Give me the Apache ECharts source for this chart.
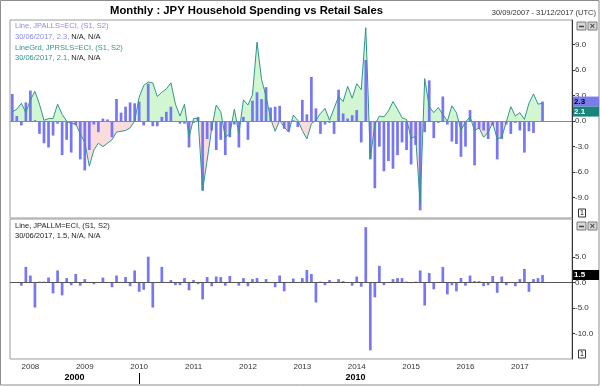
<!DOCTYPE html>
<html><head><meta charset="utf-8">
<script src="https://cdn.jsdelivr.net/npm/echarts@6/dist/echarts.min.js"></script>
<style>html,body{margin:0;padding:0;background:#fff}#c{width:600px;height:386px}</style>
</head><body><div id="c"></div>
<script>
// ---- categories: monthly, 30/09/2007 .. 31/12/2017 ----
const startYear = 2007, startMonth = 9, endYear = 2017, endMonth = 12;
const months = [];
for (let y = startYear, m = startMonth; y < endYear || (y === endYear && m <= endMonth);) {
  months.push(y + '-' + String(m).padStart(2, '0'));
  m++; if (m > 12) { m = 1; y++; }
}

// ---- JPALLS=ECI : household spending, % y/y (bars, top panel) ----
const spendYoY = [
  3.2, 0.6, -0.5, 2.2, 3.6, 0.1, -1.5, -2.6, -3.1, -1.7,
  -0.3, -4.0, -2.2, -3.7, -0.5, -4.5, -5.8, -3.4, -0.4, -1.3,
  0.3, 0.2, -1.9, 2.6, 1.0, 1.7, 2.2, 2.1, 2.3, -0.5,
  4.4, -0.6, -0.6, 0.5, 1.1, 1.7, 0.0, -0.3, -0.3, -3.1,
  -0.2, 0.5, -8.2, -2.1, -1.1, -3.4, -2.2, -4.0, -1.9, -0.4,
  -3.1, 0.5, -2.2, 2.4, 3.4, 2.6, 4.0, 1.6, 1.7, 1.8,
  -0.9, -1.2, 0.1, -0.7, 2.5, 0.8, 5.2, 1.5, -1.5, -0.4,
  -0.2, -1.5, 3.7, 0.9, 0.3, 0.7, 1.3, -2.5, 7.2, -4.5,
  -7.9, -3.0, -5.9, -4.7, -5.6, -4.0, -2.5, -3.4, -5.1, -2.8,
  -10.5, -1.3, 4.8, -2.0, -0.2, 2.9, -0.4, -2.4, -2.7, -4.2,
  -3.0, 1.3, -5.2, -0.9, -1.1, -2.1, -0.5, -4.5, -2.1, -0.4,
  -1.5, -0.2, -1.1, -3.7, -1.2, -1.4, -0.1, 2.3
];

// ---- JPRSLS=ECI : retail sales, % y/y (line with shaded area, top panel) ----
const retailYoY = [
  1.1, 1.4, 2.1, 1.0, 2.5, 3.5, 2.0, 0.1, 0.3, 0.3,
  2.0, 0.8, 0.0, -0.3, -0.3, -1.5, -2.5, -5.3, -3.4, -2.6,
  -3.0, -2.6, -2.2, -1.3, -1.2, -1.1, -0.8, 0.0, 2.8, 4.2,
  4.6, 4.5, 2.9, 3.4, 3.8, 4.5, 2.0, 0.6, 2.0, -1.9,
  0.3, 0.3, -8.1, -4.6, -0.9, 1.9, 1.1, -1.9, -1.5, 1.4,
  -1.5, 2.5, 1.9, 3.1, 9.3, 4.9, 2.9, 0.3, -1.2, 0.1,
  -0.7, -1.3, 0.7, 0.1, -1.1, -2.1, -0.3, 0.1, 0.9, 1.5,
  0.1, 1.5, 2.9, 2.3, 4.1, 2.7, 4.4, 3.7, 11.0, -4.4,
  -0.4, 0.6, 0.5, 1.2, 2.3, 1.4, 0.4, 0.2, -2.0, -1.8,
  -9.7, 5.0, 1.7, 1.0, 1.6, 0.8, 0.0, 1.8, 1.0, -1.1,
  -0.1, 0.5, -1.1, -0.8, -1.9, -1.3, -0.2, -2.1, -1.9, -0.1,
  1.7, 0.6, 1.0, 0.2, 2.1, 3.2, 2.0, 2.1
];

// ---- JPALLM=ECI : household spending, % m/m (bars, bottom panel) ----
const spendMoM = [
  null, null, -0.6, 3.1, 1.4, -4.9, 0.2, 0.2, 1.0, -2.1,
  2.4, -2.5, 0.9, -0.5, 1.7, -0.6, 0.7, 0.1, -0.3, 0.1,
  1.0, 0.1, -0.9, 1.4, 0.1, 1.1, -0.7, 2.4, -1.8, -1.4,
  5.1, -4.9, 0.1, 3.1, 0.1, 0.5, -0.5, -0.5, 0.9, -1.5,
  0.5, -0.3, -3.3, 1.1, -0.7, 1.2, 1.1, -0.6, 1.3, 0.1,
  -0.6, 0.9, -0.7, 0.7, 0.9, 0.1, 0.7, 0.1, -0.9, 1.4,
  -1.7, 0.1, 0.8, 0.1, 0.9, 2.5, 1.7, -3.9, 0.2, -0.5,
  0.5, 0.1, 0.7, 0.3, 0.1, -0.6, 1.2, -0.8, 10.9, -13.3,
  -2.9, 3.3, -0.5, 0.1, 0.7, 0.9, 0.9, 0.2, -0.1, 0.2,
  2.4, -4.5, 1.9, -1.3, 0.1, 3.1, -2.3, -0.5, -1.7, 0.9,
  -0.6, 1.4, 0.3, 0.3, -0.7, -0.5, 1.3, -2.0, 1.2, -0.5,
  0.1, -0.7, 0.7, 2.7, -1.8, 0.7, 0.9, 1.5
];

const topTicks = [-9, -6, -3, 0, 3, 6, 9];
const bottomTicks = [-10, -5, 0, 5];
const decadeLabels = ['2000', '2010'];
const decadeStart = '2010-01';

// ---- styling ----
const FONT = '"Liberation Sans", Arial, sans-serif';
const BAR = '#7676f6';
const TEAL = '#2f978a';
const LAV = '#8a8af0';
const GL = 10, GR = 28;
const TOP_MIN = -11.4, TOP_MAX = 11.9;

const lastIdx = spendYoY.length - 1;
const lastDate = (() => { const p = months[lastIdx].split('-'); return '30/' + p[1] + '/' + p[0]; })();
const f1 = v => v.toFixed(1);

const chart = echarts.init(document.getElementById('c'), null, { renderer: 'canvas' });

const legendTitle = (txt, top, rich) => ({
  text: txt, left: 15, top: top, padding: 0,
  textStyle: { fontFamily: FONT, fontSize: 7.5, fontWeight: 'normal', rich: rich }
});
const richTop = {
  l: { color: LAV, fontFamily: FONT, fontSize: 7.5 },
  t: { color: TEAL, fontFamily: FONT, fontSize: 7.5 },
  k: { color: '#222', fontFamily: FONT, fontSize: 7.5 }
};

const option = {
  animation: false,
  backgroundColor: '#fff',
  title: [
    { text: 'Monthly : JPY Household Spending vs Retail Sales', left: 110, top: 5, padding: 0,
      textStyle: { fontFamily: FONT, fontSize: 11.3, fontWeight: 'bold', color: '#000' } },
    { text: '30/09/2007 - 31/12/2017 (UTC)', right: 4, top: 9, padding: 0,
      textStyle: { fontFamily: FONT, fontSize: 7.5, fontWeight: 'normal', color: '#333' } },
    legendTitle('{l|Line, JPALLS=ECI, (S1, S2)}', 22, richTop),
    legendTitle('{l|' + lastDate + ', ' + f1(spendYoY[lastIdx]) + ',} {k|N/A, N/A}', 32.5, richTop),
    legendTitle('{t|LineGrd, JPRSLS=ECI, (S1, S2)}', 43.5, richTop),
    legendTitle('{t|' + lastDate + ', ' + f1(retailYoY[lastIdx]) + ',} {k|N/A, N/A}', 54, richTop),
    legendTitle('{k|Line, JPALLM=ECI, (S1, S2)}', 221.5, richTop),
    legendTitle('{k|' + lastDate + ', ' + f1(spendMoM[lastIdx]) + ', N/A, N/A}', 232, richTop)
  ],
  grid: [
    { left: GL, right: GR, top: 20, height: 198, show: true, borderColor: '#9c9c9c', borderWidth: 1, backgroundColor: '#fff' },
    { left: GL, right: GR, top: 219, height: 140, show: true, borderColor: '#9c9c9c', borderWidth: 1, backgroundColor: '#fff' }
  ],
  visualMap: {
    show: false, type: 'piecewise', seriesIndex: 0, dimension: 1,
    pieces: [{ min: 0, max: TOP_MAX, color: '#d2f6d2' }, { min: TOP_MIN, max: 0, color: '#fbdcdc' }]
  },
  xAxis: [
    { gridIndex: 0, type: 'category', data: months, boundaryGap: true,
      axisLine: { show: false }, axisTick: { show: false }, axisLabel: { show: false }, splitLine: { show: false } },
    { gridIndex: 1, type: 'category', data: months, boundaryGap: true,
      axisLine: { show: false }, axisTick: { show: false }, splitLine: { show: false },
      axisLabel: { show: true, interval: (i, v) => v.endsWith('-01'), formatter: v => v.slice(0, 4),
        fontFamily: FONT, fontSize: 8, color: '#333', margin: 4 } }
  ],
  yAxis: [
    { gridIndex: 0, type: 'value', position: 'right', min: TOP_MIN, max: TOP_MAX,
      axisLine: { show: true, lineStyle: { color: '#333', width: 1 } },
      axisTick: { show: true, length: 3, lineStyle: { color: '#333' }, customValues: topTicks },
      axisLabel: { show: true, customValues: topTicks, formatter: v => f1(v), fontFamily: FONT, fontSize: 8, color: '#333', margin: 3 },
      splitLine: { show: false } },
    { gridIndex: 1, type: 'value', position: 'right', min: -15, max: 12.5,
      axisLine: { show: true, lineStyle: { color: '#333', width: 1 } },
      axisTick: { show: true, length: 3, lineStyle: { color: '#333' }, customValues: bottomTicks },
      axisLabel: { show: true, customValues: bottomTicks, formatter: v => f1(v), fontFamily: FONT, fontSize: 8, color: '#333', margin: 3 },
      splitLine: { show: false } }
  ],
  series: [
    { name: 'retailArea', type: 'line', xAxisIndex: 0, yAxisIndex: 0, data: retailYoY,
      showSymbol: false, silent: true, z: 1,
      lineStyle: { width: 0, opacity: 0 }, areaStyle: { opacity: 1, origin: 0 } },
    { name: 'JPALLS', type: 'bar', xAxisIndex: 0, yAxisIndex: 0, data: spendYoY,
      barWidth: 2.7, itemStyle: { color: BAR }, z: 2, silent: true },
    { name: 'JPRSLS', type: 'line', xAxisIndex: 0, yAxisIndex: 0, data: retailYoY,
      showSymbol: false, silent: true, z: 3,
      lineStyle: { color: TEAL, width: 1 }, itemStyle: { color: TEAL },
      markLine: { silent: true, symbol: 'none', label: { show: false },
        lineStyle: { color: '#4aa59b', width: 1, type: 'solid' }, data: [{ yAxis: 0 }] } },
    { name: 'JPALLM', type: 'bar', xAxisIndex: 1, yAxisIndex: 1, data: spendMoM,
      barWidth: 2.7, itemStyle: { color: BAR }, z: 2, silent: true,
      markLine: { silent: true, symbol: 'none', label: { show: false },
        lineStyle: { color: '#555', width: 1, type: 'solid' }, data: [{ yAxis: 0 }] } }
  ]
};
chart.setOption(option);

// ---- overlays positioned through the chart's own scales ----
const gx = chart.convertToPixel({ xAxisIndex: 1 }, decadeStart);
const gLeft = GL;
const gRight = 600 - GR;
const axisX = 600 - GR;

const yA = chart.convertToPixel({ yAxisIndex: 0 }, spendYoY[lastIdx]);
let yB = chart.convertToPixel({ yAxisIndex: 0 }, retailYoY[lastIdx]);
if (yB < yA + 10) yB = yA + 10;
const yC = chart.convertToPixel({ yAxisIndex: 1 }, spendMoM[lastIdx]);

function valueBox(y, txt, bg, fg) {
  return [
    { type: 'rect', shape: { x: axisX + 1, y: y - 5, width: 26, height: 10 }, style: { fill: bg }, z: 100 },
    { type: 'text', x: axisX + 2, y: y, style: { text: txt, fill: fg, font: 'bold 8px ' + FONT, textVerticalAlign: 'middle' }, z: 101 }
  ];
}
function icons(y) {
  return [
    { type: 'rect', shape: { x: 577, y: y, width: 9, height: 8 }, style: { fill: '#d8d8d8', stroke: '#7a7a7a', lineWidth: 1 }, z: 100 },
    { type: 'line', shape: { x1: 579, y1: y + 4.5, x2: 584, y2: y + 4.5 }, style: { stroke: '#444', lineWidth: 1.5 }, z: 101 },
    { type: 'rect', shape: { x: 588, y: y, width: 9, height: 8 }, style: { fill: '#d8d8d8', stroke: '#7a7a7a', lineWidth: 1 }, z: 100 },
    { type: 'text', x: 592.5, y: y + 4.5, style: { text: '×', fill: '#444', font: 'bold 9px ' + FONT, textAlign: 'center', textVerticalAlign: 'middle' }, z: 101 }
  ];
}
function oneBox(y) {
  return [
    { type: 'rect', shape: { x: 578.5, y: y, width: 7, height: 8 }, style: { fill: '#fff', stroke: '#333', lineWidth: 1 }, z: 100 },
    { type: 'text', x: 582, y: y + 4.3, style: { text: '1', fill: '#000', font: '7px ' + FONT, textAlign: 'center', textVerticalAlign: 'middle' }, z: 101 }
  ];
}

chart.setOption({
  graphic: [
    { type: 'rect', shape: { x: 0.5, y: 0.5, width: 598.5, height: 384.5 }, style: { fill: 'none', stroke: '#8c8c8c', lineWidth: 1 }, z: 100 },
    ...valueBox(yA, f1(spendYoY[lastIdx]), '#7b7bf0', '#000'),
    ...valueBox(yB, f1(retailYoY[lastIdx]), '#17857a', '#fff'),
    ...valueBox(yC, f1(spendMoM[lastIdx]), '#000', '#fff'),
    ...icons(22), ...icons(222),
    ...oneBox(209), ...oneBox(350),
    { type: 'text', x: (gLeft + gx) / 2, y: 378, style: { text: decadeLabels[0], fill: '#000', font: 'bold 9px ' + FONT, textAlign: 'center', textVerticalAlign: 'middle' }, z: 100 },
    { type: 'text', x: (gx + gRight) / 2, y: 378, style: { text: decadeLabels[1], fill: '#000', font: 'bold 9px ' + FONT, textAlign: 'center', textVerticalAlign: 'middle' }, z: 100 },
    { type: 'line', shape: { x1: Math.round(gx) + 0.5, y1: 373, x2: Math.round(gx) + 0.5, y2: 384 }, style: { stroke: '#000', lineWidth: 1 }, z: 100 }
  ]
});
</script>
</body></html>
